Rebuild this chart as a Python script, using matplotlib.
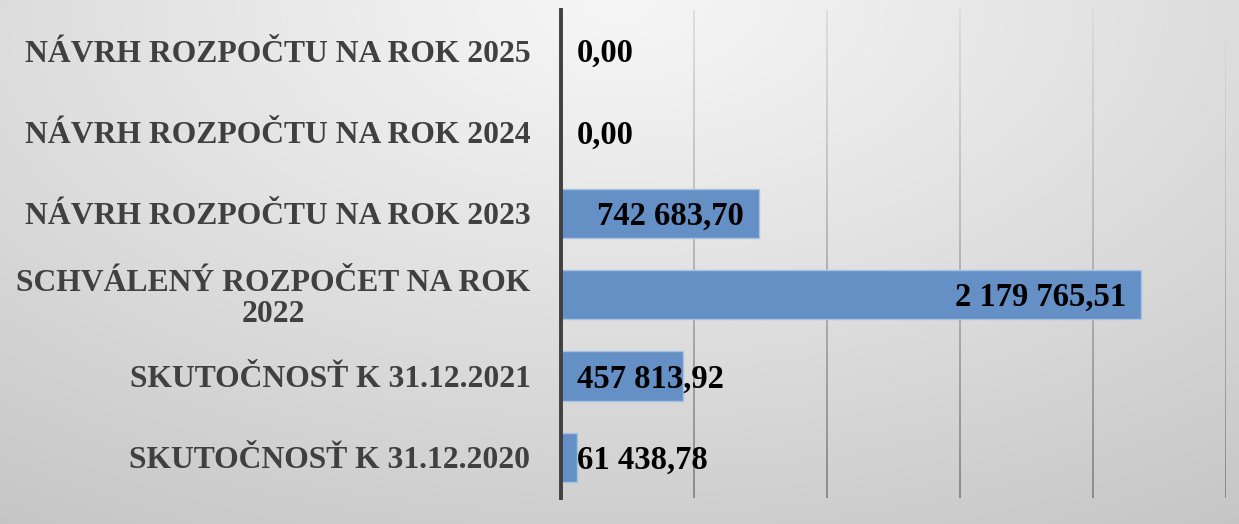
import numpy as np
import matplotlib
matplotlib.use("Agg")
import matplotlib.pyplot as plt
from matplotlib.collections import LineCollection
from matplotlib.transforms import offset_copy

categories = [
    "SKUTOČNOSŤ K 31.12.2020",
    "SKUTOČNOSŤ K 31.12.2021",
    "SCHVÁLENÝ ROZPOČET NA ROK\n2022",
    "NÁVRH ROZPOČTU NA ROK 2023",
    "NÁVRH ROZPOČTU NA ROK 2024",
    "NÁVRH ROZPOČTU NA ROK 2025",
]
values = [61438.78, 457813.92, 2179765.51, 742683.70, 0.0, 0.0]
value_labels = ["61 438,78", "457 813,92", "2 179 765,51", "742 683,70", "0,00", "0,00"]
x_ticks = [0, 500000, 1000000, 1500000, 2000000, 2500000]

W, H, DPI = 1239, 524, 100
fig = plt.figure(figsize=(W / DPI, H / DPI), dpi=DPI)

# background radial gradient
bg = fig.add_axes([0, 0, 1, 1], zorder=0)
yy, xx = np.mgrid[0:1:200j, 0:1:400j]
d = np.sqrt(((xx - 0.5) / 0.75) ** 2 + (yy / 1.0) ** 2)
d = np.clip(d / d.max(), 0, 1)
c0, c1 = 0.965, 0.775
img = c0 + (c1 - c0) * d ** 1.1
bg.imshow(np.dstack([img, img, img]), extent=[0, 1, 0, 1], origin="upper",
          aspect="auto", interpolation="bicubic")
bg.axis("off")

left = 561 / W
right = 1226 / W
top = 1 - 10 / H
bottom = 1 - 498 / H
ax = fig.add_axes([left, bottom, right - left, top - bottom], zorder=1)
ax.patch.set_alpha(0)

y = np.arange(len(categories))
ax.barh(y, values, height=0.61, color="#6590c6", edgecolor="#a9c2e2",
        linewidth=1.0, zorder=3)

ax.set_xlim(x_ticks[0], x_ticks[-1])
ax.set_ylim(-0.5, len(categories) - 0.5)
ax.set_xticks(x_ticks)
ax.set_xticklabels([])
ax.tick_params(axis="x", length=0)
ax.tick_params(axis="y", length=0, pad=22)
ax.set_yticks(y)
ax.set_yticklabels(categories, fontfamily="Liberation Serif", fontweight="bold",
                   fontsize=22.8, color="#404040", linespacing=1.1)
for lab in ax.get_yticklabels():
    lab.set_multialignment("center")

for s in ["top", "right", "bottom"]:
    ax.spines[s].set_visible(False)
ax.spines["left"].set_color("#404040")
ax.spines["left"].set_linewidth(2.8)
ax.spines["left"].set_zorder(5)

# gradient gridlines
segs, cols = [], []
n = 60
ys = np.linspace(-0.5, len(categories) - 0.5, n + 1)
for xt in x_ticks[1:]:
    for i in range(n):
        segs.append([(xt, ys[i]), (xt, ys[i + 1])])
        t = i / n  # 0 bottom .. 1 top
        g = 0.50 + (0.86 - 0.50) * t
        cols.append((g, g, g))
ax.add_collection(LineCollection(segs, colors=cols, linewidths=1.2, zorder=2))

fig.canvas.draw()
renderer = fig.canvas.get_renderer()
ax_left_px = ax.transData.transform((0, 0))[0]
for yi, v, lab in zip(y, values, value_labels):
    tr = offset_copy(ax.transData, fig=fig, x=-15, y=-3, units="dots")
    t = ax.text(v, yi, lab, transform=tr, ha="right", va="center",
                fontfamily="Liberation Serif", fontweight="bold", fontsize=23.5,
                color="black", zorder=6)
    bb = t.get_window_extent(renderer)
    if bb.x0 < ax_left_px + 16:
        t.set_transform(offset_copy(ax.transData, fig=fig, x=16, y=-3, units="dots"))
        t.set_x(0)
        t.set_horizontalalignment("left")

fig.savefig("out.png", dpi=DPI)
